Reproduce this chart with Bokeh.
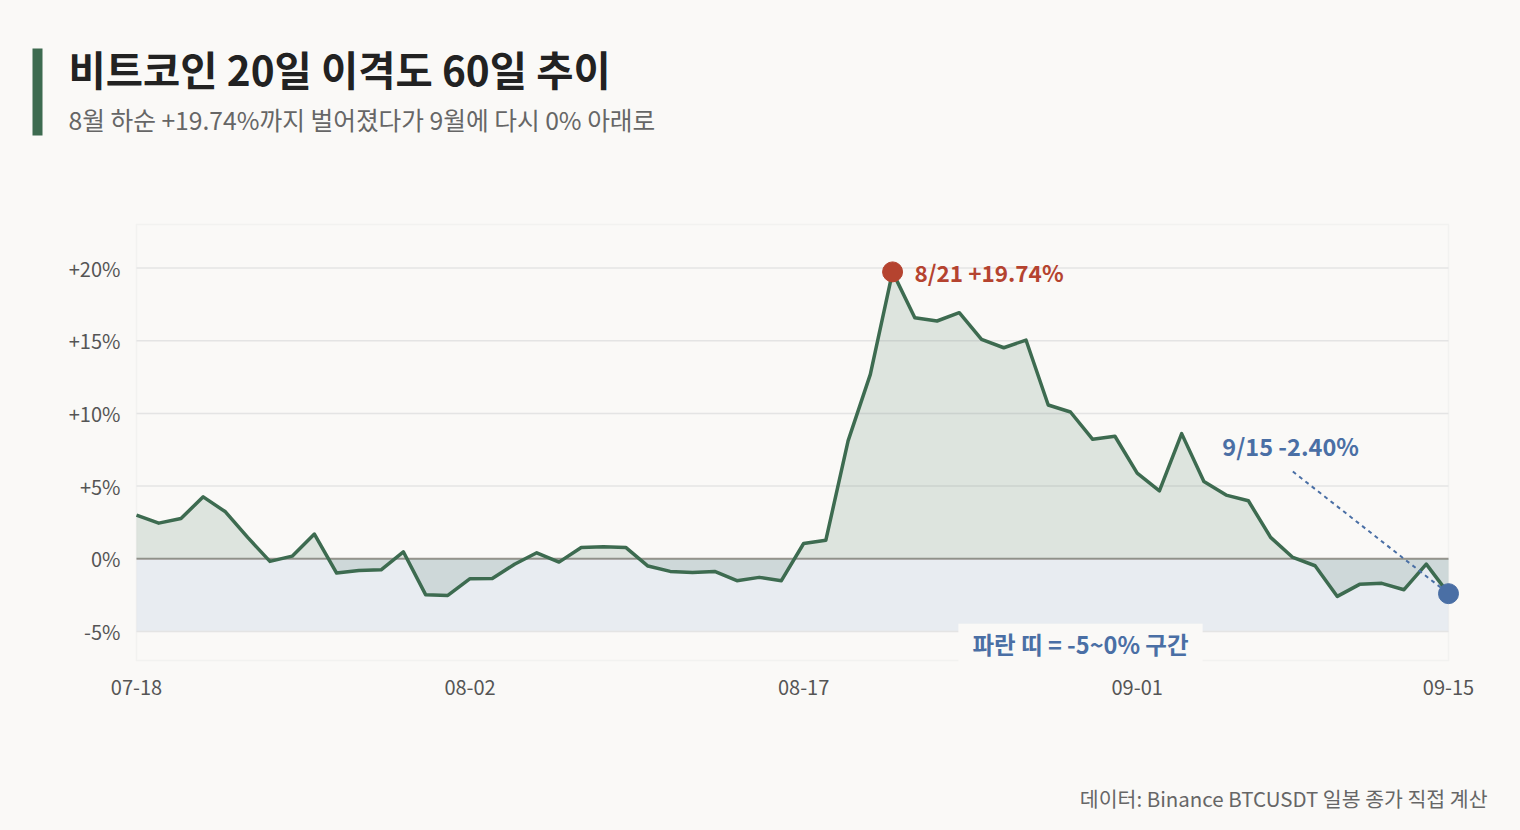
from bokeh.plotting import figure
from bokeh.layouts import column
from bokeh.models import Range1d, FixedTicker, Label, BoxAnnotation, ColumnDataSource
from bokeh.embed import file_html
from bokeh.resources import INLINE
import pandas

# 60 days, 07-18 ~ 09-15
dates = [d.strftime("%m-%d") for d in pandas.date_range("2025-07-18", periods=60)]

# 20-day disparity (%)
disparity = [3.00, 2.45, 2.77, 4.26, 3.23, 1.47, -0.18, 0.18, 1.70, -0.98,
             -0.80, -0.76, 0.48, -2.47, -2.52, -1.37, -1.36, -0.38, 0.41, -0.23,
             0.78, 0.82, 0.78, -0.50, -0.87, -0.94, -0.87, -1.51, -1.28, -1.51,
             1.05, 1.28, 8.11, 12.69, 19.74, 16.59, 16.36, 16.93, 15.10, 14.52,
             15.05, 10.58, 10.10, 8.22, 8.43, 5.89, 4.67, 8.61, 5.31, 4.38,
             3.99, 1.47, 0.09, -0.48, -2.59, -1.76, -1.69, -2.13, -0.37, -2.40]

x_tick_labels = ["07-18", "08-02", "08-17", "09-01", "09-15"]
y_ticks = [-5, 0, 5, 10, 15, 20]
y_tick_labels = ["-5%", "0%", "+5%", "+10%", "+15%", "+20%"]
y_lo, y_hi = -7, 23

BG = "#faf9f7"
GREEN = "#3d6b50"
RED = "#b5432f"
BLUE = "#4a6fa5"
FONT = "Noto Sans CJK KR"

W = 1520
HEAD_H = 160
MAIN_H = 600
FOOT_H = 70
# the drawn box is 1312 x 436 px; the real frame is PAD px bigger on each side
# so that the end marker is not cut at the edge
BOX_W = 1312
BOX_H = 436
PAD = 12


def blank_fig(h):
    """A bare figure whose frame is the whole canvas, y measured from the top"""
    f = figure(width=W, height=h, output_backend="svg", toolbar_location=None,
               x_range=Range1d(0, W), y_range=Range1d(h, 0), frame_align=False,
               min_border=0, x_axis_type=None, y_axis_type=None)
    f.background_fill_color = BG
    f.border_fill_color = BG
    f.outline_line_color = None
    f.grid.visible = False
    return f


# header
head = blank_fig(HEAD_H)
head.quad(left=[32], right=[42], top=[48], bottom=[135], fill_color=GREEN, line_color=None)
head.add_layout(Label(x=68, y=68, text="비트코인 20일 이격도 60일 추이", text_font=FONT,
                      text_font_size="40.5px", text_font_style="bold",
                      text_color="#222222", text_baseline="middle"))
head.add_layout(Label(x=68, y=118, text="8월 하순 +19.74%까지 벌어졌다가 9월에 다시 0% 아래로",
                      text_font=FONT, text_font_size="24.7px", text_color="#666666",
                      text_baseline="middle"))

# main chart
x_lo, x_hi = 0, len(dates) - 1
px_x = BOX_W / (x_hi - x_lo)
px_y = BOX_H / (y_hi - y_lo)
idx = list(range(len(dates)))
src = ColumnDataSource(dict(x=idx, y=disparity, zero=[0] * len(idx)))

p = figure(width=W, height=MAIN_H, output_backend="svg", toolbar_location=None,
           x_range=Range1d(x_lo - PAD / px_x, x_hi + PAD / px_x),
           y_range=Range1d(y_lo - PAD / px_y, y_hi + PAD / px_y), frame_align=False,
           min_border_left=136 - PAD, min_border_right=W - 136 - BOX_W - PAD,
           min_border_top=64 - PAD, min_border_bottom=MAIN_H - 64 - BOX_H - PAD)
p.background_fill_color = BG
p.border_fill_color = BG
p.outline_line_color = None

p.xaxis.ticker = FixedTicker(ticks=[dates.index(t) for t in x_tick_labels])
p.xaxis.major_label_overrides = {dates.index(t): t for t in x_tick_labels}
p.yaxis.ticker = FixedTicker(ticks=y_ticks)
p.yaxis.major_label_overrides = dict(zip(y_ticks, y_tick_labels))
for ax in (p.xaxis, p.yaxis):
    ax.axis_line_color = None
    ax.major_tick_line_color = None
    ax.minor_tick_line_color = None
    ax.major_tick_out = 0
    ax.major_tick_in = 0
    ax.minor_tick_out = 0
    ax.major_label_text_font = FONT
    ax.major_label_text_font_size = "20px"
    ax.major_label_text_color = "#555555"
p.xaxis.major_label_standoff = 7
p.yaxis.major_label_standoff = 4
p.grid.visible = False

# blue band -5 ~ 0 and plot box
p.add_layout(BoxAnnotation(left=x_lo, right=x_hi, bottom=-5, top=0, fill_color="#e8ecf1",
                           fill_alpha=1, line_color=None, level="underlay"))
p.add_layout(BoxAnnotation(left=x_lo, right=x_hi, bottom=y_lo, top=y_hi, fill_alpha=0,
                           line_color="#e0e0e0", line_width=1.5, level="underlay"))

# grid lines and zero line
grid_y = [t for t in y_ticks if t != 0]
p.segment(x0=[x_lo] * len(grid_y), x1=[x_hi] * len(grid_y), y0=grid_y, y1=grid_y,
          line_color="#e4e4e4", line_width=1.5)
p.segment(x0=[x_lo], x1=[x_hi], y0=[0], y1=[0], line_color="#9a9690", line_width=2)

p.varea(x="x", y1="zero", y2="y", source=src, fill_color=GREEN, fill_alpha=0.15)
p.line(x="x", y="y", source=src, line_color=GREEN, line_width=3.5, line_join="round")

# peak marker
peak_i = disparity.index(max(disparity))
p.scatter([peak_i], [disparity[peak_i]], size=20, fill_color=RED, line_color=RED)
p.add_layout(Label(x=peak_i, y=disparity[peak_i], x_offset=22, text="8/21 +19.74%",
                   text_font=FONT, text_font_size="22.5px", text_font_style="bold",
                   text_color=RED, text_baseline="middle"))

# last point marker
last_i = len(disparity) - 1
p.segment(x0=[52], y0=[6.0], x1=[last_i], y1=[disparity[last_i]],
          line_color=BLUE, line_width=2, line_dash="4 4")
p.scatter([last_i], [disparity[last_i]], size=20, fill_color=BLUE, line_color=BLUE)
p.add_layout(Label(x=48.83, y=7.78, text="9/15 -2.40%",
                   text_font=FONT, text_font_size="23.5px", text_font_style="bold",
                   text_color=BLUE, text_baseline="middle"))

# band note
p.add_layout(Label(x=36.96, y=-5.85, text="파란 띠 = -5~0% 구간",
                   text_font=FONT, text_font_size="23.5px", text_font_style="bold",
                   text_color=BLUE, text_baseline="middle",
                   background_fill_color=BG, background_fill_alpha=1, padding=(14, 3)))

# footer
foot = blank_fig(FOOT_H)
foot.add_layout(Label(x=1487, y=37, text="데이터: Binance BTCUSDT 일봉 종가 직접 계산",
                      text_font=FONT, text_font_size="20.5px", text_color="#666666",
                      text_baseline="middle", text_align="right"))

layout = column(head, p, foot, spacing=0)
html = file_html(layout, INLINE)
html = html.replace("</head>", "<style>html, body { background: %s !important; }</style></head>" % BG, 1)
open("out.html", "w").write(html)
